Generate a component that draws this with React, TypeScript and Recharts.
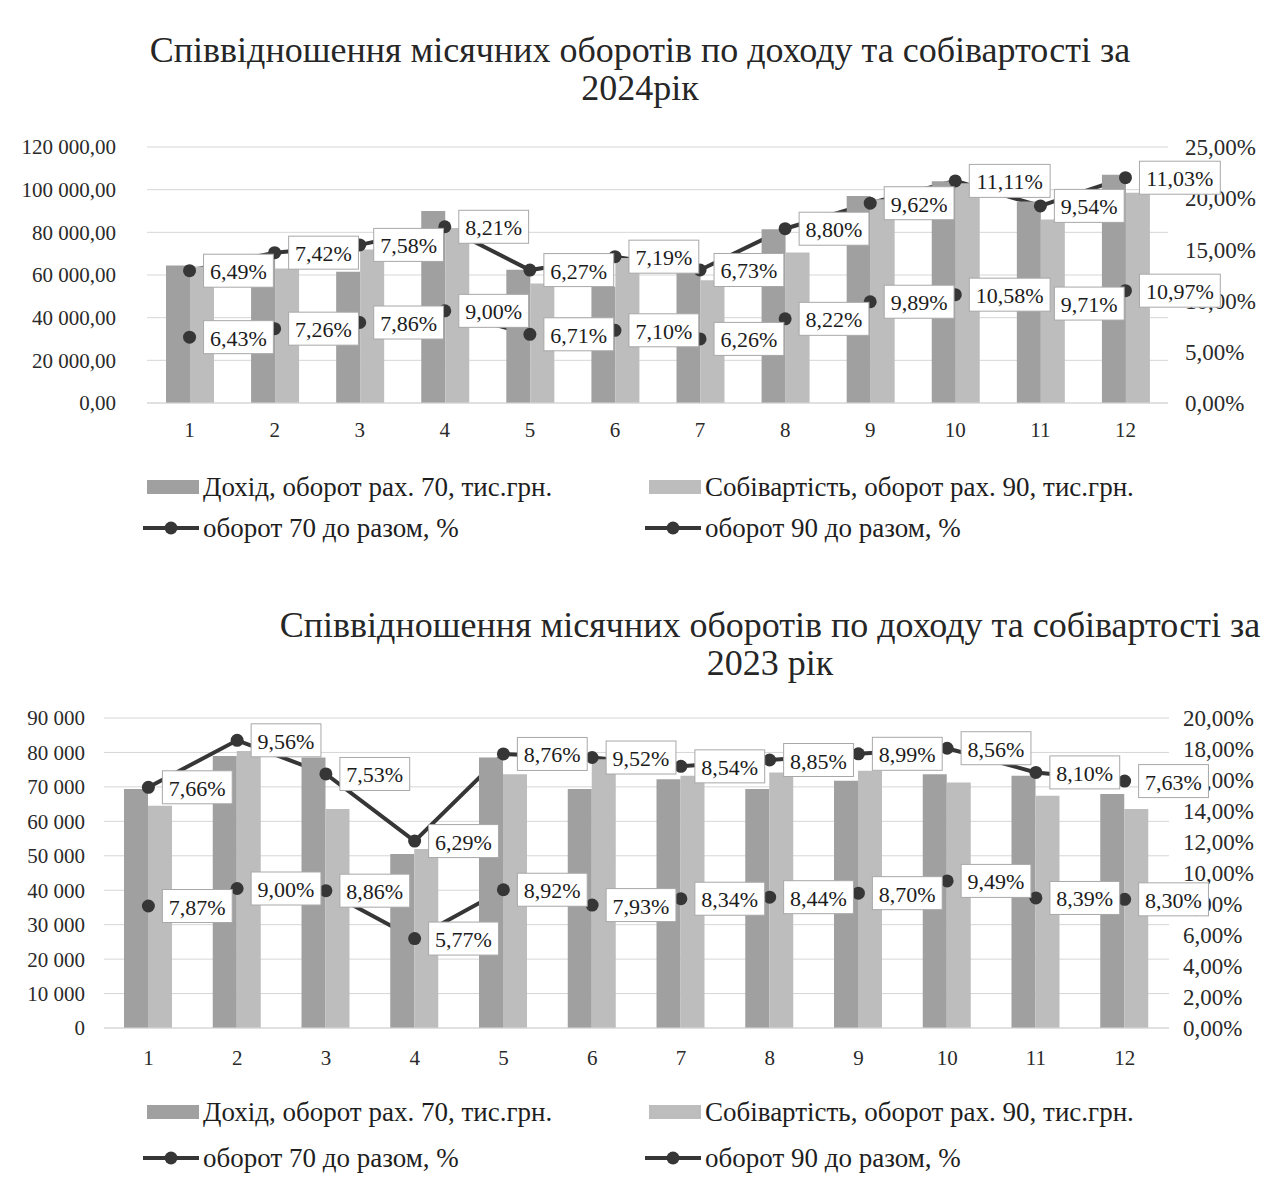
import React from 'react';
import { ComposedChart, Bar, Area, XAxis, YAxis, CartesianGrid, LabelList } from 'recharts';

const MONTHS = ['1', '2', '3', '4', '5', '6', '7', '8', '9', '10', '11', '12'];

// 2024, тис.грн.
const INCOME_2024 = [64500, 67500, 61500, 90000, 62500, 54500, 61500, 81500, 97000, 104000, 94500, 107000];
const COST_2024 = [64000, 63000, 72000, 82000, 56000, 68000, 57500, 70500, 95500, 103000, 86000, 98500];
const SHARE70_2024 = [6.43, 7.26, 7.86, 9.0, 6.71, 7.1, 6.26, 8.22, 9.89, 10.58, 9.71, 10.97];
const SHARE90_2024 = [6.49, 7.42, 7.58, 8.21, 6.27, 7.19, 6.73, 8.8, 9.62, 11.11, 9.54, 11.03];

// 2023
const INCOME_2023 = [69400, 79000, 78500, 50500, 78500, 69400, 72200, 69400, 71800, 73700, 73200, 67900];
const COST_2023 = [64500, 80400, 63600, 52000, 73700, 78000, 73200, 74200, 74700, 71300, 67400, 63600];
const SHARE70_2023 = [7.87, 9.0, 8.86, 5.77, 8.92, 7.93, 8.34, 8.44, 8.7, 9.49, 8.39, 8.3];
const SHARE90_2023 = [7.66, 9.56, 7.53, 6.29, 8.76, 9.52, 8.54, 8.85, 8.99, 8.56, 8.1, 7.63];

const LEFT_TICKS_2024 = [0, 20000, 40000, 60000, 80000, 100000, 120000];
const RIGHT_TICKS_2024 = [0, 5, 10, 15, 20, 25];
const LEFT_TICKS_2023 = [0, 10000, 20000, 30000, 40000, 50000, 60000, 70000, 80000, 90000];
const RIGHT_TICKS_2023 = [0, 2, 4, 6, 8, 10, 12, 14, 16, 18, 20];

const FONT = '"Liberation Serif", "Times New Roman", serif';
const INCOME_COLOR = '#a0a0a0';
const COST_COLOR = '#bdbdbd';
const LINE_COLOR = '#363636';

const LEGEND_NAMES = [
  'Дохід, оборот рах. 70, тис.грн.',
  'Собівартість, оборот рах. 90, тис.грн.',
  'оборот 70 до разом, %',
  'оборот 90 до разом, %',
];

const buildRows = (inc: number[], cost: number[], p70: number[], p90: number[]) =>
  MONTHS.map((m, i) => ({ month: m, income: inc[i], cost: cost[i], p70: p70[i], p90: p90[i] }));

const groupThousands = (v: number) => Math.round(v).toString().replace(/\B(?=(\d{3})+(?!\d))/g, ' ');
const pct = (v: number) => `${Number(v).toFixed(2).replace('.', ',')}%`;

const textWidth = (s: string, size: number) => {
  let w = 0;
  for (const ch of s) {
    if (ch === ',') w += 0.25;
    else if (ch === '%') w += 0.833;
    else w += 0.5;
  }
  return w * size;
};

function BoxLabel(props: any) {
  const vb = props.viewBox || {};
  const x = props.x ?? vb.x;
  const y = props.y ?? vb.y;
  if (x == null || y == null || props.value == null) return null;
  const text = pct(props.value);
  const w = textWidth(text, 22) + 13;
  const h = 33;
  const bx = x + 14;
  return (
    <g>
      <rect x={bx} y={y - h / 2} width={w} height={h} fill="#ffffff" stroke="#a8a8a8" strokeWidth={1} />
      <text x={bx + w / 2} y={y + 1} textAnchor="middle" dominantBaseline="central" fontSize={22} fontFamily={FONT} fill="#1c1c1c">
        {text}
      </text>
    </g>
  );
}

const renderDot = (props: any) => {
  if (props.cx == null || props.cy == null) return <g key={props.index} />;
  return <circle key={props.index} cx={props.cx} cy={props.cy} r={6.5} fill={LINE_COLOR} />;
};

interface PanelProps {
  rows: any[];
  height: number;
  margin: { top: number; right: number; bottom: number; left: number };
  leftWidth: number;
  rightWidth: number;
  leftTicks: number[];
  rightTicks: number[];
  leftFmt: (v: number) => string;
  leftTickMargin: number;
  rightTickMargin: number;
  xTickMargin: number;
  barGapCat: number;
}

function Panel(p: PanelProps) {
  const tick = { fontSize: 21, fontFamily: FONT, fill: '#2a2a2a' };
  const leftMax = p.leftTicks[p.leftTicks.length - 1];
  const rightMax = p.rightTicks[p.rightTicks.length - 1];
  return (
    <ComposedChart width={1272} height={p.height} data={p.rows} margin={p.margin} barGap={0} barCategoryGap={p.barGapCat}>
      <CartesianGrid vertical={false} stroke="#d6d6d6" yAxisId="left" />
      <XAxis
        dataKey="month"
        axisLine={{ stroke: '#d6d6d6' }}
        tickLine={false}
        tickSize={0}
        tickMargin={p.xTickMargin}
        tick={tick}
        height={30}
        interval={0}
      />
      <YAxis
        yAxisId="left"
        width={p.leftWidth}
        domain={[0, leftMax]}
        ticks={p.leftTicks}
        tickFormatter={p.leftFmt}
        axisLine={false}
        tickLine={false}
        tickSize={0}
        tickMargin={p.leftTickMargin}
        tick={tick}
        interval={0}
      />
      <YAxis
        yAxisId="right"
        orientation="right"
        width={p.rightWidth}
        domain={[0, rightMax]}
        ticks={p.rightTicks}
        tickFormatter={(v: number) => pct(v)}
        axisLine={false}
        tickLine={false}
        tickSize={0}
        tickMargin={p.rightTickMargin}
        tick={{ ...tick, fontSize: 23, textAnchor: 'start' }}
        interval={0}
      />
      <Bar yAxisId="left" dataKey="income" fill={INCOME_COLOR} isAnimationActive={false} />
      <Bar yAxisId="left" dataKey="cost" fill={COST_COLOR} isAnimationActive={false} />
      <Area
        yAxisId="right"
        type="linear"
        dataKey="p70"
        stackId="share"
        fill="none"
        fillOpacity={0}
        stroke={LINE_COLOR}
        strokeWidth={4}
        dot={renderDot}
        activeDot={false}
        isAnimationActive={false}
      >
        <LabelList dataKey="p70" content={BoxLabel} />
      </Area>
      <Area
        yAxisId="right"
        type="linear"
        dataKey="p90"
        stackId="share"
        fill="none"
        fillOpacity={0}
        stroke={LINE_COLOR}
        strokeWidth={4}
        dot={renderDot}
        activeDot={false}
        isAnimationActive={false}
      >
        <LabelList dataKey="p90" content={BoxLabel} />
      </Area>
    </ComposedChart>
  );
}

function LegendItem({ x, y, kind, color, label }: { x: number; y: number; kind: 'bar' | 'line'; color: string; label: string }) {
  return (
    <div style={{ position: 'absolute', left: x, top: y - 18, height: 36, display: 'flex', alignItems: 'center', whiteSpace: 'nowrap' }}>
      <svg width={58} height={20} style={{ marginRight: 2 }}>
        {kind === 'bar' ? (
          <rect x={4} y={3} width={52} height={14} fill={color} />
        ) : (
          <g>
            <line x1={0} y1={10} x2={56} y2={10} stroke={color} strokeWidth={4} />
            <circle cx={28} cy={10} r={6.5} fill={color} />
          </g>
        )}
      </svg>
      <span style={{ fontSize: 27, fontFamily: FONT, color: '#1e1e1e' }}>{label}</span>
    </div>
  );
}

function Title({ center, top, lines }: { center: number; top: number; lines: string[] }) {
  return (
    <div
      style={{
        position: 'absolute',
        left: center - 700,
        width: 1400,
        top,
        textAlign: 'center',
        fontFamily: FONT,
        fontSize: 36,
        lineHeight: '38px',
        color: '#262626',
        whiteSpace: 'nowrap',
      }}
    >
      {lines.map((l) => (
        <div key={l}>{l}</div>
      ))}
    </div>
  );
}

export default function App() {
  const rows2024 = buildRows(INCOME_2024, COST_2024, SHARE70_2024, SHARE90_2024);
  const rows2023 = buildRows(INCOME_2023, COST_2023, SHARE70_2023, SHARE90_2023);
  return (
    <div style={{ position: 'relative', width: 1272, height: 1184, margin: -8, overflow: 'hidden', background: '#fff' }}>
      <div style={{ position: 'absolute', left: 0, top: 0 }}>
        <Panel
          rows={rows2024}
          height={455}
          margin={{ top: 147, right: 4, bottom: 22, left: 27 }}
          leftWidth={120}
          rightWidth={100}
          leftTicks={LEFT_TICKS_2024}
          rightTicks={RIGHT_TICKS_2024}
          leftFmt={(v: number) => `${groupThousands(v)},00`}
          leftTickMargin={31}
          rightTickMargin={17}
          xTickMargin={19}
          barGapCat={19}
        />
      </div>
      <Title center={640} top={31} lines={['Співвідношення місячних оборотів по доходу та собівартості за', '2024рік']} />
      <LegendItem x={143} y={487} kind="bar" color={INCOME_COLOR} label={LEGEND_NAMES[0]} />
      <LegendItem x={645} y={487} kind="bar" color={COST_COLOR} label={LEGEND_NAMES[1]} />
      <LegendItem x={143} y={528} kind="line" color={LINE_COLOR} label={LEGEND_NAMES[2]} />
      <LegendItem x={645} y={528} kind="line" color={LINE_COLOR} label={LEGEND_NAMES[3]} />

      <div style={{ position: 'absolute', left: 0, top: 600 }}>
        <Panel
          rows={rows2023}
          height={485}
          margin={{ top: 118, right: 3, bottom: 27, left: 24 }}
          leftWidth={80}
          rightWidth={100}
          leftTicks={LEFT_TICKS_2023}
          rightTicks={RIGHT_TICKS_2023}
          leftFmt={(v: number) => groupThousands(v)}
          leftTickMargin={19}
          rightTickMargin={14}
          xTickMargin={22}
          barGapCat={20}
        />
      </div>
      <Title center={770} top={606} lines={['Співвідношення місячних оборотів по доходу та собівартості за', '2023 рік']} />
      <LegendItem x={143} y={1112} kind="bar" color={INCOME_COLOR} label={LEGEND_NAMES[0]} />
      <LegendItem x={645} y={1112} kind="bar" color={COST_COLOR} label={LEGEND_NAMES[1]} />
      <LegendItem x={143} y={1158} kind="line" color={LINE_COLOR} label={LEGEND_NAMES[2]} />
      <LegendItem x={645} y={1158} kind="line" color={LINE_COLOR} label={LEGEND_NAMES[3]} />
    </div>
  );
}
